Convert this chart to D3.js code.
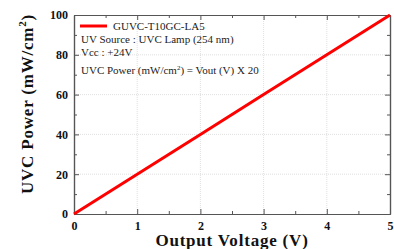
<!DOCTYPE html>
<html>
<head>
<meta charset="utf-8">
<script src="https://cdn.jsdelivr.net/npm/d3@7"></script>
<style>
  body { margin: 0; background: #fff; }
  svg { display: block; }
</style>
</head>
<body>
<div id="chart"></div>
<script>
const w = 394;
const h = 249;
const margin = {left: 74, top: 15, right: 4, bottom: 35};

// data
const voltage = [0, 1, 2, 3, 4, 5];
const power = [0, 20, 40, 60, 80, 100];
const xTicks = [0, 1, 2, 3, 4, 5];
const yTicks = [0, 20, 40, 60, 80, 100];
const seriesName = "GUVC-T10GC-LA5";

const svg = d3.select('#chart')
  .append('svg')
  .attr('width', w)
  .attr('height', h);

const x = d3.scaleLinear().domain([0, 5]).range([margin.left, w - margin.right]);
const y = d3.scaleLinear().domain([0, 100]).range([h - margin.bottom, margin.top]);

const font = "'Liberation Serif', 'Times New Roman', serif";

// grid
svg.append('g').selectAll('line')
  .data(xTicks.slice(1, -1))
  .enter().append('line')
  .attr('x1', d => x(d)).attr('x2', d => x(d))
  .attr('y1', y(0)).attr('y2', y(100))
  .attr('stroke', '#d8d8d8').attr('stroke-width', 0.8)
  .attr('stroke-dasharray', '1,1');
svg.append('g').selectAll('line')
  .data(yTicks.slice(1, -1))
  .enter().append('line')
  .attr('y1', d => y(d)).attr('y2', d => y(d))
  .attr('x1', x(0)).attr('x2', x(5))
  .attr('stroke', '#d8d8d8').attr('stroke-width', 0.8)
  .attr('stroke-dasharray', '1,1');

// axes, ticks pointing inward
function styleAxis(g) {
  g.select('.domain').attr('stroke', '#555').attr('stroke-width', 1.2);
  g.selectAll('.tick line').attr('stroke', '#555').attr('stroke-width', 1);
  g.selectAll('text')
    .attr('font-family', font)
    .attr('font-weight', 'bold')
    .attr('font-size', '12px')
    .attr('fill', '#111');
}

const xMinor = d3.range(0.5, 5, 1);
const yMinor = d3.range(10, 100, 20);

svg.append('g')
  .attr('transform', 'translate(0,' + y(0) + ')')
  .call(d3.axisBottom(x).tickValues(xTicks).tickSizeInner(-5).tickSizeOuter(0).tickPadding(7).tickFormat(d3.format('d')))
  .call(styleAxis);
svg.append('g')
  .attr('transform', 'translate(0,' + y(0) + ')')
  .call(d3.axisBottom(x).tickValues(xMinor).tickSizeInner(-3).tickSizeOuter(0).tickFormat(''))
  .call(styleAxis);

svg.append('g')
  .attr('transform', 'translate(' + x(0) + ',0)')
  .call(d3.axisLeft(y).tickValues(yTicks).tickSizeInner(-5).tickSizeOuter(0).tickPadding(6))
  .call(styleAxis);
svg.append('g')
  .attr('transform', 'translate(' + x(0) + ',0)')
  .call(d3.axisLeft(y).tickValues(yMinor).tickSizeInner(-3).tickSizeOuter(0).tickFormat(''))
  .call(styleAxis);

svg.append('g')
  .attr('transform', 'translate(0,' + y(100) + ')')
  .call(d3.axisTop(x).tickValues(xTicks).tickSizeInner(-5).tickSizeOuter(0).tickFormat(''))
  .call(styleAxis);
svg.append('g')
  .attr('transform', 'translate(0,' + y(100) + ')')
  .call(d3.axisTop(x).tickValues(xMinor).tickSizeInner(-3).tickSizeOuter(0).tickFormat(''))
  .call(styleAxis);

svg.append('g')
  .attr('transform', 'translate(' + x(5) + ',0)')
  .call(d3.axisRight(y).tickValues(yTicks).tickSizeInner(-5).tickSizeOuter(0).tickFormat(''))
  .call(styleAxis);
svg.append('g')
  .attr('transform', 'translate(' + x(5) + ',0)')
  .call(d3.axisRight(y).tickValues(yMinor).tickSizeInner(-3).tickSizeOuter(0).tickFormat(''))
  .call(styleAxis);

// data line
const line = d3.line()
  .x((d, i) => x(voltage[i]))
  .y(d => y(d));

svg.append('path')
  .datum(power)
  .attr('d', line)
  .attr('fill', 'none')
  .attr('stroke', '#f00')
  .attr('stroke-width', 3);

// legend + notes
svg.append('line')
  .attr('x1', 80).attr('x2', 107)
  .attr('y1', 26).attr('y2', 26)
  .attr('stroke', '#f00').attr('stroke-width', 3);

const notes = svg.append('g')
  .attr('font-family', font)
  .attr('font-size', '11px')
  .attr('fill', '#222')
  .style('white-space', 'pre');

notes.append('text').attr('x', 113).attr('y', 30).text(seriesName);
notes.append('text').attr('x', 81).attr('y', 43).text('UV Source : UVC Lamp (254 nm)');
notes.append('text').attr('x', 81).attr('y', 56).text('Vcc : +24V');
const eq = notes.append('text').attr('x', 81).attr('y', 74);
eq.append('tspan').text('UVC Power (mW/cm');
eq.append('tspan').attr('font-size', '7px').attr('dy', -4).text('2');
eq.append('tspan').attr('dy', 4).text(') = Vout (V)  X 20');

// axis titles
svg.append('text')
  .attr('x', 232)
  .attr('y', 246)
  .attr('text-anchor', 'middle')
  .attr('font-family', font)
  .attr('font-weight', 'bold')
  .attr('font-size', '17px')
  .attr('letter-spacing', '0.8px')
  .attr('fill', '#111')
  .text('Output Voltage (V)');

const yt = svg.append('text')
  .attr('transform', 'translate(33,' + 104 + ') rotate(-90)')
  .attr('text-anchor', 'middle')
  .attr('font-family', font)
  .attr('font-weight', 'bold')
  .attr('font-size', '17px')
  .attr('letter-spacing', '0.8px')
  .attr('fill', '#111');
yt.append('tspan').text('UVC Power (mW/cm');
yt.append('tspan').attr('font-size', '11px').attr('dy', -7).text('2');
yt.append('tspan').attr('dy', 7).text(')');
</script>
</body>
</html>
